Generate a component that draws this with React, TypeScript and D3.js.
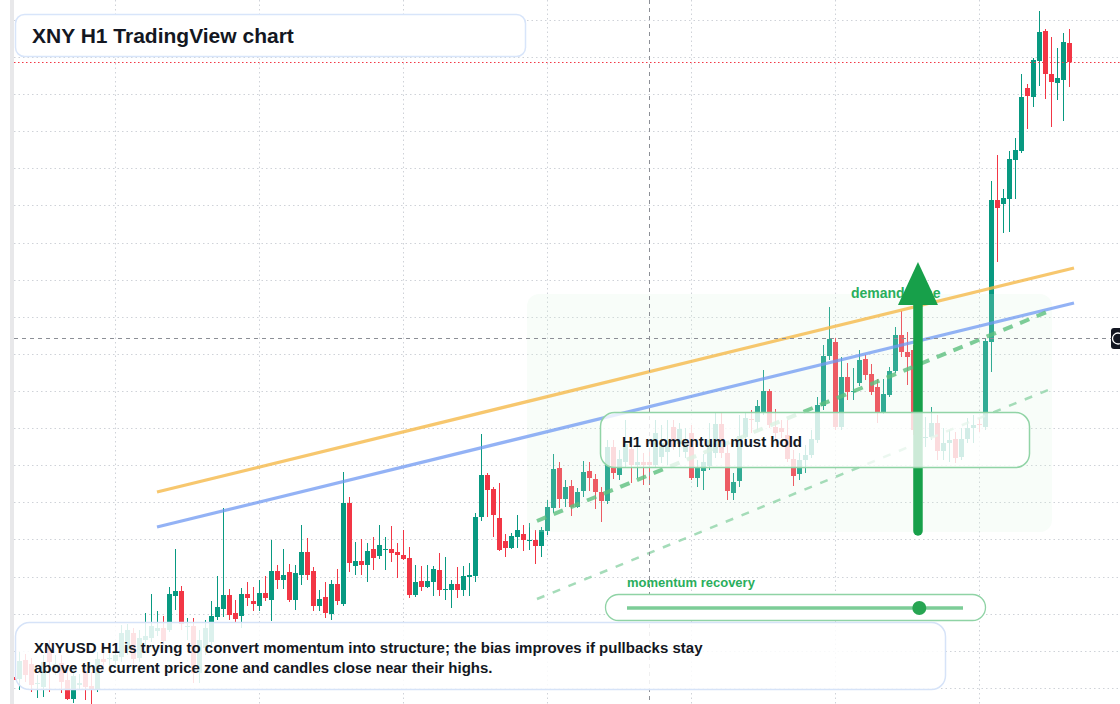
import React from 'react';
import * as d3 from 'd3';

const W = 1120;
const H = 704;

// Hourly XNY candles, oldest first (price in index points)
const opens = [
  27, 25, 44, 40, 20, 17, 56, 36, 41, 24, 5, 19, 31, 18, 14, 45, 45, 43, 47, 54,
  71, 46, 64, 66, 73, 76, 74, 108, 113, 77, 78, 31, 56, 62, 87, 95, 109, 91, 88, 110,
  103, 98, 111, 104, 133, 124, 132, 104, 129, 152, 133, 98, 107, 90, 120, 100, 201, 138, 143, 139,
  155, 148, 154.5, 155, 152, 149, 146, 109, 123, 117, 122, 134, 114, 114, 120, 114, 127, 128, 187, 229,
  215, 186, 163, 156, 167, 170, 163.5, 164, 158, 173, 196, 236, 205, 218, 197, 213, 233, 225, 212, 203,
  257, 229, 242, 255, 239, 242, 242, 239, 247, 252, 277, 260, 252, 271, 226, 233, 238, 251, 280, 251,
  211, 223, 267, 285.5, 282, 292, 313, 277, 276, 269, 245, 230, 244, 249, 264, 298, 348, 362, 277, 327,
  312.5, 321, 345, 330, 317, 292, 309, 333, 369, 352, 354, 272, 266.5, 267, 281, 253, 261, 265, 247, 265,
  276, 280, 277, 362, 504, 500, 505, 544, 553, 616, 607, 643, 673, 630, 621, 624, 661,
];
const highs = [
  30, 52, 50, 46, 29, 49, 64, 49, 49, 34, 36, 30, 39, 32, 52, 52, 54, 54, 79, 80,
  76, 74, 91, 110, 93, 88, 117, 155, 118, 86, 86, 74, 84, 103, 128, 196, 115, 104, 116, 122,
  117, 124, 128, 164, 139, 155, 140, 139, 179, 166, 137, 114, 122, 124, 135, 232, 207, 162, 165, 161,
  167, 179, 167, 178, 161, 174, 157, 139, 138, 139, 138, 151, 147, 124, 137, 138, 141, 191, 270, 231,
  217, 221, 170, 171, 189, 179, 181, 174, 177, 204, 250, 242, 224, 224, 216, 243, 242, 230, 217, 264,
  264, 254, 284, 264, 257, 251, 252, 284, 279, 284, 284, 281, 276, 279, 244, 250, 281, 291, 291, 259,
  231, 289, 291, 294, 304, 334, 315, 295, 284, 284, 254, 251, 259, 274, 307, 359, 397, 366, 347, 341,
  336, 354, 349, 340, 325, 325, 337, 377, 393, 372, 359, 289, 287, 297, 289, 276, 274, 272, 276, 286,
  289, 286, 366, 523, 549, 515, 553, 566, 630, 620, 646, 693, 675, 667, 656, 671, 675,
];
const lows = [
  22, 14, 22, 12, 6, 7, 12, 29, 11, 4, 1, 14, 4, 0, 12, 34, 36, 38, 42, 49,
  40, 42, 59, 62, 68, 59, 72, 94, 74, 64, 21, 21, 49, 59, 84, 87, 84, 82, 76, 98,
  93, 93, 103, 83, 115, 115, 102, 94, 119, 124, 93, 93, 86, 84, 99, 98, 132, 129, 129, 122,
  134, 145, 134, 142, 126, 144, 106, 107, 113, 116, 108, 108, 104, 96, 106, 108, 108, 122, 183, 187,
  167, 153, 147, 155, 156, 153, 154, 140, 147, 169, 191, 196, 197, 188, 196, 207, 213, 195, 182, 200,
  225, 224, 237, 221, 226, 219, 219, 237, 241, 239, 254, 247, 246, 224, 217, 214, 234, 246, 246, 204,
  204, 217, 257, 271, 274, 289, 276, 264, 266, 242, 218, 224, 231, 246, 261, 294, 344, 274, 274, 304,
  304, 318, 324, 309, 281, 290, 307, 331, 347, 319, 269, 264, 257, 264, 244, 244, 242, 241, 244, 261,
  261, 272, 274, 332, 442, 471, 472, 505, 551, 575, 597, 618, 605, 577, 604, 583, 617,
];
const closes = [
  24, 43, 29, 19, 21, 42, 42, 40, 22, 5, 28, 21, 17, 14, 45, 42, 46, 49, 71, 74,
  45, 66, 68, 78, 76, 63, 110, 113, 80, 78, 31, 64, 76, 88, 97, 109, 89, 85, 110, 106,
  100, 111, 106, 133, 124, 129, 104, 131, 152, 129, 98, 105, 91, 120, 103, 201, 141, 143, 139, 153,
  146, 159, 155, 151, 149, 145, 109, 122, 117, 123, 135, 114, 115, 120, 114, 128, 129, 187, 229, 214,
  189, 154, 156, 168, 174, 164, 164, 158, 174, 197, 235, 205, 217, 197, 212, 232, 226, 212, 203, 257,
  231, 245, 260, 239, 242, 239, 239, 271, 261, 264, 257, 275, 260, 226, 237, 242, 264, 280, 251, 213,
  222, 268, 286, 285, 298, 313, 279, 271, 272, 245, 228, 244, 249, 265, 299, 348, 365, 277, 327, 312,
  313, 344, 329, 312, 292, 310, 333, 369, 352, 347, 274, 279, 267, 281, 253, 261, 264, 246, 265, 276,
  279, 279, 363, 504, 496, 506, 545, 554, 607, 608, 644, 672, 630, 622, 626, 662, 642,
];

// Horizontal price grid levels and daily session separators (candle index)
const priceGrid = [
  684, 646.9, 609.8, 572.7, 535.6, 498.5, 461.4, 424.3, 387.2, 350.1,
  313, 275.9, 238.8, 201.7, 164.6, 127.5, 90.4, 53.3, 16.2,
];
const sessionGrid = [17, 41, 65, 89, 113, 137, 161];

// Drawn studies: [candle index, price]
const resistanceLine = [[24, 212], [176.83, 436]];
const supportLine = [[24, 177], [176.83, 401]];
const channelUpper = [[87.33, 183], [172.33, 392]];
const channelLower = [[87.33, 105], [172.5, 314]];
const demandZone = { i0: 85.67, i1: 173.17, top: 410, bottom: 172 };
const arrowStudy = { i: 150.83, base: 173, neck: 399, tip: 442, halfWidth: 3.33 };
const crosshair = { i: 106, price: 366 };

const titleText = 'XNY H1 TradingView chart';
const noteLines = [
  'XNYUSD H1 is trying to convert momentum into structure; the bias improves if pullbacks stay',
  'above the current price zone and candles close near their highs.',
];
const calloutText = 'H1 momentum must hold';
const zoneLabel = 'demand zone';
const sliderLabel = 'momentum recovery';
const sliderValue = 0.87;

const UP = '#089981';
const DOWN = '#f23645';
const FONT = '"Liberation Sans", Arial, Helvetica, sans-serif';

export default function App() {
  const x = d3.scaleLinear().domain([0, 176]).range([13, 1069]);
  const y = d3.scaleLinear().domain([0, 704]).range([704, 0]);
  const line = d3.line<number[]>().x((d) => x(d[0])).y((d) => y(d[1]));

  const candles = opens.map((o, i) => ({
    i,
    o,
    h: highs[i],
    l: lows[i],
    c: closes[i],
  }));

  const lastClose = closes[closes.length - 1];

  const zx0 = x(demandZone.i0);
  const zx1 = x(demandZone.i1);
  const zy0 = y(demandZone.top);
  const zy1 = y(demandZone.bottom);

  const ax = x(arrowStudy.i);
  const aHalf = x(arrowStudy.i + arrowStudy.halfWidth) - ax;

  const sliderX0 = 627;
  const sliderX1 = 963;
  const knobX = d3.scaleLinear().domain([0, 1]).range([sliderX0, sliderX1])(sliderValue);

  return (
    <svg
      width={W}
      height={H}
      style={{ position: 'absolute', left: 0, top: 0, background: '#ffffff' }}
      fontFamily={FONT}
    >
      <rect x={0} y={0} width={W} height={H} fill="#ffffff" />

      {/* grid */}
      <g stroke="#cfd2d8" strokeWidth={1} strokeDasharray="1.5 3">
        {priceGrid.map((p) => (
          <line key={'h' + p} x1={14} x2={W} y1={Math.round(y(p)) + 0.5} y2={Math.round(y(p)) + 0.5} />
        ))}
        {sessionGrid.map((i) => (
          <line key={'v' + i} x1={x(i) + 0.5} x2={x(i) + 0.5} y1={0} y2={H} />
        ))}
      </g>

      {/* candles */}
      <g shapeRendering="crispEdges">
        {candles.map((d) => {
          const cx = x(d.i);
          const col = d.c >= d.o ? UP : DOWN;
          const top = y(Math.max(d.o, d.c));
          const bot = y(Math.min(d.o, d.c));
          return (
            <g key={d.i}>
              <rect x={cx} y={y(d.h)} width={1} height={Math.max(1, y(d.l) - y(d.h))} fill={col} />
              <rect x={cx - 2} y={top} width={5} height={Math.max(1, bot - top)} fill={col} />
            </g>
          );
        })}
      </g>

      {/* demand zone */}
      <rect
        x={zx0}
        y={zy0}
        width={zx1 - zx0}
        height={zy1 - zy0}
        rx={12}
        fill="#dcf3e3"
        fillOpacity={0.2}
      />

      {/* trend lines */}
      <path d={line(resistanceLine) || ''} stroke="#f5b94a" strokeOpacity={0.8} strokeWidth={3.2} fill="none" />
      <path d={line(supportLine) || ''} stroke="#6f98f2" strokeOpacity={0.75} strokeWidth={3.2} fill="none" />
      <path
        d={line(channelUpper) || ''}
        stroke="#5cbf7e"
        strokeOpacity={0.8}
        strokeWidth={4}
        strokeDasharray="10 8"
        fill="none"
      />
      <path
        d={line(channelLower) || ''}
        stroke="#8fd3a7"
        strokeOpacity={0.8}
        strokeWidth={2.5}
        strokeDasharray="8 9"
        fill="none"
      />

      {/* last price line */}
      <line
        x1={14}
        x2={W}
        y1={Math.round(y(lastClose)) + 0.5}
        y2={Math.round(y(lastClose)) + 0.5}
        stroke={DOWN}
        strokeWidth={1}
        strokeDasharray="1.5 2.5"
      />

      {/* crosshair */}
      <g stroke="#8c8f96" strokeWidth={1} strokeDasharray="4 4">
        <line x1={x(crosshair.i) + 0.5} x2={x(crosshair.i) + 0.5} y1={0} y2={H} />
        <line x1={14} x2={1111} y1={y(crosshair.price) + 0.5} y2={y(crosshair.price) + 0.5} />
      </g>
      <rect x={1111} y={y(crosshair.price) - 10} width={16} height={21} rx={3} fill="#131722" />
      <circle cx={1118} cy={y(crosshair.price) + 0.5} r={5.5} fill="none" stroke="#ffffff" strokeWidth={1.3} />

      {/* zone label */}
      <text x={851} y={298} fontSize={14} fontWeight={700} fill="#2aae5c">
        {zoneLabel}
      </text>

      {/* arrow */}
      <line
        x1={ax}
        x2={ax}
        y1={y(arrowStudy.base)}
        y2={y(arrowStudy.neck) - 2}
        stroke="#17a04a"
        strokeWidth={9.5}
        strokeLinecap="round"
      />
      <path
        d={`M${ax - aHalf},${y(arrowStudy.neck)} L${ax},${y(arrowStudy.tip)} L${ax + aHalf},${y(arrowStudy.neck)} Z`}
        fill="#17a04a"
      />

      {/* callout */}
      <rect
        x={600.5}
        y={412.5}
        width={429}
        height={55}
        rx={14}
        fill="#ffffff"
        fillOpacity={0.78}
        stroke="#91d4a6"
        strokeWidth={1.5}
      />
      <text x={622} y={447} fontSize={15} fontWeight={700} fill="#131722">
        {calloutText}
      </text>

      {/* momentum slider */}
      <text x={627} y={587} fontSize={13} fontWeight={700} fill="#2aae5c">
        {sliderLabel}
      </text>
      <rect
        x={605.5}
        y={594.5}
        width={380}
        height={26}
        rx={13}
        fill="#ffffff"
        stroke="#8fd3a5"
        strokeWidth={1.3}
      />
      <line x1={sliderX0} x2={sliderX1} y1={608} y2={608} stroke="#7ccd97" strokeWidth={3.5} />
      <circle cx={knobX} cy={608} r={7} fill="#27a552" />

      {/* note */}
      <rect
        x={15.5}
        y={622.5}
        width={930}
        height={67}
        rx={14}
        fill="#ffffff"
        fillOpacity={0.86}
        stroke="#d6e3f8"
        strokeWidth={1.5}
      />
      {noteLines.map((t, k) => (
        <text key={k} x={34} y={653 + k * 20} fontSize={15} fontWeight={700} fill="#131722">
          {t}
        </text>
      ))}

      {/* title */}
      <rect
        x={15.5}
        y={14.5}
        width={510}
        height={42}
        rx={9}
        fill="#ffffff"
        stroke="#d8e5fa"
        strokeWidth={1.5}
      />
      <text x={32} y={43} fontSize={21} fontWeight={700} fill="#131722">
        {titleText}
      </text>

      {/* left pane edge */}
      <rect x={10} y={0} width={4} height={H} fill="#e8e8ea" />
    </svg>
  );
}
